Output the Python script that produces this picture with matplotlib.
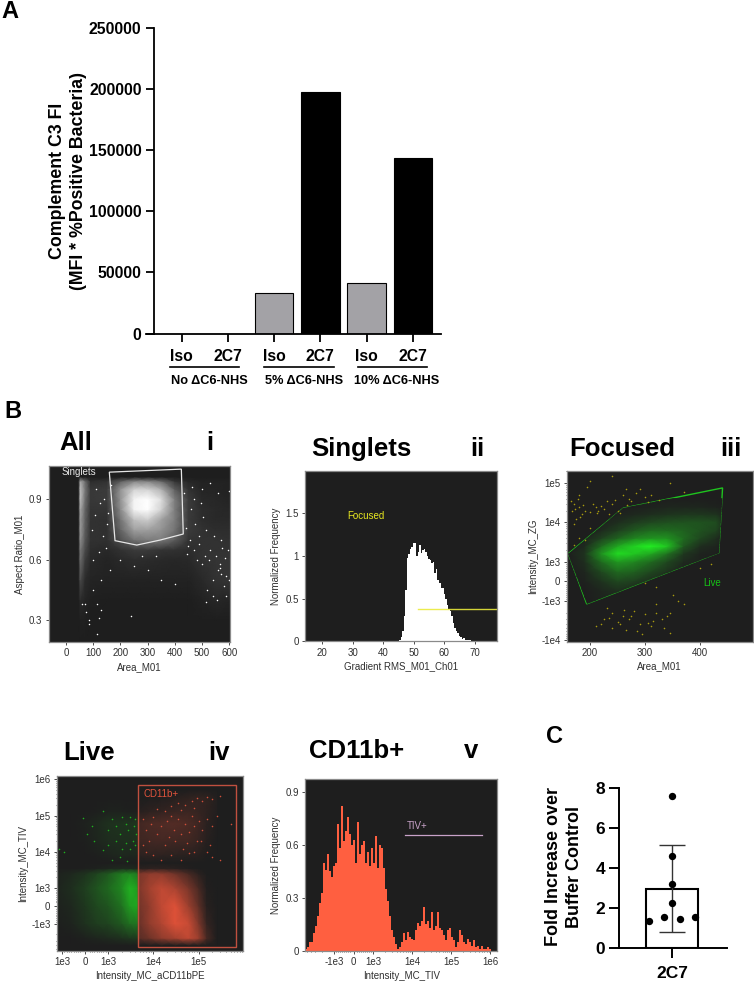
import numpy as np
import matplotlib
matplotlib.use('Agg')
import matplotlib.pyplot as plt
from matplotlib.colors import LinearSegmentedColormap
from matplotlib.lines import Line2D
from matplotlib.patches import Polygon, Rectangle
from matplotlib.ticker import NullFormatter, SymmetricalLogLocator

plt.rcParams['font.family'] = ['Liberation Sans', 'DejaVu Sans']

W = 754
H = 983
DARK = '#1e1e1e'
TXT = '#303030'
SMALL = 7.0

# panel A
a_labels = ['Iso', '2C7', 'Iso', '2C7', 'Iso', '2C7']
a_values = [0, 0, 32800, 197500, 41200, 143400]
a_colors = ['#a3a2a6', 'black', '#a3a2a6', 'black', '#a3a2a6', 'black']
a_yticks = [0, 50000, 100000, 150000, 200000, 250000]
a_groups = ['No ΔC6-NHS', '5% ΔC6-NHS', '10% ΔC6-NHS']

# panel i, density
i_xn = [46, 52, 70, 90, 150, 200, 250, 300, 350, 400, 450, 500, 550, 600]
i_yn = [0.2, 0.3, 0.4, 0.5, 0.6, 0.65, 0.7, 0.75, 0.8, 0.85, 0.9, 0.95, 0.99, 1.01]
i_z = [
    [0, 0, 0, 0, 0, 0, 0, 0, 0, 0, 0, 0, 0, 0],
    [0, .01, .01, 0, 0, 0, 0, 0, 0, 0, 0, 0, 0, 0],
    [0, .06, .03, .01, 0, 0, 0, 0, 0, 0, 0, .02, .04, .03],
    [0, .2, .06, .03, .02, .02, .02, .02, .02, .02, .02, .05, .09, .1],
    [0, .35, .14, .05, .03, .05, .07, .06, .05, .04, .05, .09, .1, .1],
    [0, .4, .2, .07, .05, .09, .13, .13, .1, .09, .07, .09, .09, .09],
    [0, .5, .25, .09, .08, .22, .38, .42, .42, .28, .1, .09, .09, .08],
    [0, .55, .28, .09, .08, .32, .58, .58, .52, .38, .13, .09, .07, .07],
    [0, .55, .3, .09, .08, .38, .72, .78, .58, .42, .13, .07, .05, .05],
    [0, .6, .32, .1, .1, .48, .95, 1, .8, .42, .13, .07, .05, .04],
    [0, .7, .36, .12, .13, .52, .95, 1, .85, .42, .13, .05, .04, .03],
    [0, .7, .4, .12, .13, .52, .8, .8, .65, .28, .09, .03, .03, .02],
    [0, .6, .35, .07, .09, .28, .45, .45, .33, .1, .04, .02, .02, .02],
    [0, 0, 0, 0, 0, 0, 0, 0, 0, 0, 0, 0, 0, 0],
]
i_gate_x = [159, 424, 431, 346, 260, 180]
i_gate_y = [1.035, 1.05, .728, .698, .673, .695]
i_dots_x = [560, 565, 570, 590, 598, 580, 540, 520, 500, 480, 470, 450, 510, 530, 550, 575, 595,
            490, 515, 460, 470, 500, 530, 560, 598, 570, 540, 590, 555, 515, 240, 130, 115, 85,
            75, 70, 60, 120, 115, 85, 350, 300, 250, 200, 400, 160, 130, 100, 330, 280,
            110, 125, 140, 105, 95, 135, 150, 145, 120, 100, 155, 165, 440, 455, 475, 490, 505,
            525, 545, 565, 585, 435, 445, 465, 495]
i_dots_y = [.55, .56, .53, .52, .5, .47, .5, .45, .58, .6, .65, .67, .62, .65, .62, .66, .65,
            .72, .75, .85, .9, .95, .98, .93, .94, .7, .42, .42, .4, .39, .32, .35, .38, .28,
            .34, .38, .38, .31, .23, .3, .5, .55, .57, .6, .48, .55, .5, .45, .62, .62,
            .95, .88, .9, .82, .75, .72, .78, .66, .64, .6, .83, .97, .76, .7, .78, .68, .81,
            .6, .72, .58, .61, .93, .63, .96, .88]

# panel ii
ii_x = [45, 45.5, 46, 46.5, 47, 47.5, 48, 48.5, 49, 49.5, 50, 50.5, 51, 51.5, 52, 52.5, 53, 53.5,
        54, 54.5, 55, 55.5, 56, 56.5, 57, 57.5, 58, 58.5, 59, 59.5, 60, 60.5, 61, 61.5, 62, 62.5,
        63, 63.5, 64, 64.5, 65, 65.5, 66, 66.5, 67, 67.5, 68, 68.5, 69, 69.5]
ii_y = [0, .01, .05, .12, .3, .6, .98, 1.02, 1.08, 1.1, 1.15, 1.15, 1.0, 1.05, 1.13, 1.03, 1.07,
        1.08, 1.05, 1.0, .97, .95, .92, .93, .8, .85, .72, .68, .63, .62, .55, .5, .42, .38, .35,
        .3, .22, .16, .12, .1, .06, .05, .03, .04, .02, .02, .01, .01, .005, 0]

# panel iii
iii_xn = [160, 190, 220, 250, 280, 310, 340, 370, 400, 430, 445]
iii_yn = [-3000, -500, 0, 500, 1000, 1600, 2500, 4000, 6300, 10000, 16000, 25000, 40000]
iii_z = [
    [0, 0, 0, 0, 0, 0, 0, 0, 0, 0, 0],
    [0, 0, .04, .08, .04, 0, 0, 0, 0, 0, 0],
    [0, .02, .1, .2, .16, .08, .02, 0, 0, 0, 0],
    [0, .04, .2, .36, .32, .2, .1, .02, 0, 0, 0],
    [0, .08, .36, .58, .5, .36, .2, .06, .02, 0, 0],
    [0, .1, .55, .9, .8, .65, .4, .12, .03, .01, 0],
    [0, .06, .36, .65, .85, 1, .8, .28, .08, .03, 0],
    [0, .02, .16, .32, .48, .55, .55, .36, .2, .08, 0],
    [0, 0, .06, .16, .28, .36, .36, .32, .25, .18, .02],
    [0, 0, .02, .08, .14, .2, .24, .25, .25, .22, .04],
    [0, 0, 0, .02, .05, .08, .1, .12, .12, .1, .02],
    [0, 0, 0, 0, .01, .02, .04, .04, .04, .02, .01],
    [0, 0, 0, 0, 0, 0, 0, 0, 0, 0, 0],
]
iii_gate_x = [160.5, 260.6, 441, 434, 194]
iii_gate_y = [1606, 23000, 75000, 1700, -1208]
iii_dots_x = [170, 180, 185, 190, 200, 210, 215, 225, 230, 240, 250, 255, 180, 165, 195, 200, 240,
              260, 265, 270, 275, 290, 300, 310, 345, 370, 170, 180, 170, 190, 200, 175,
              230, 240, 260, 280, 300, 320, 340, 330, 250, 270, 290, 310, 220, 210, 285, 295,
              345, 240, 320, 350, 320, 300, 360, 370, 400, 420,
              168, 178, 188, 205, 220, 235, 245, 172, 182, 212, 268, 283, 305, 325, 262, 275,
              235, 255, 315, 335, 305, 265, 345, 225]
iii_dots_y = [30000, 25000, 16000, 20000, 18000, 24000, 19000, 22000, 35000, 30000, 20000, 17000,
              50000, 35000, 80000, 110000, 150000, 50000, 70000, 40000, 35000, 70000, 45000,
              50000, 100000, 60000, 9000, 4000, 2600, 3500, 7000, 12000,
              -1500, -2000, -2500, -1800, -2200, -2000, -2500, -3000, -3500, -3000, -4000, -4500,
              -4000, -4500, -6000, -7000, -6500, -5000, -1200, -700, -300, -100, -1000, -1200,
              700, 900,
              20000, 40000, 28000, 30000, 26000, 16000, 38000, 22000, 14000, 17000, 28000, 55000,
              32000, 36000, -1700, -2400, -2800, -3800, -3300, -5000, -3600, -5500, -2000, -3000]

# panel iv
iv_gx = [-1300, -600, 0, 500, 1000, 2000, 3000, 4640]
iv_ry = [-4000, -2500, -1000, 0, 1000, 2500, 3500, 5000]
iv_green = [
    [0, 0, 0, 0, 0, 0, 0, 0],
    [0, 0, .02, .04, .06, .09, .12, .14],
    [.01, .03, .09, .15, .18, .28, .38, .42],
    [.02, .05, .12, .2, .26, .4, .6, .65],
    [.03, .08, .16, .25, .35, .5, .7, .6],
    [.02, .05, .1, .18, .28, .45, .5, .42],
    [0, 0, .01, .02, .04, .06, .06, .05],
    [0, 0, 0, 0, 0, 0, 0, 0],
]
iv_rx = [4640, 8000, 15000, 30000, 60000, 100000, 150000, 250000]
iv_red = [
    [0, 0, 0, 0, 0, 0, 0, 0],
    [.25, .35, .5, .6, .72, .55, .18, 0],
    [.32, .5, .65, .85, .75, .42, .1, 0],
    [.36, .5, .72, .85, .55, .28, .04, 0],
    [.42, .58, .72, .62, .4, .18, .02, 0],
    [.4, .5, .5, .36, .18, .06, 0, 0],
    [.05, .07, .07, .05, .02, 0, 0, 0],
    [0, 0, 0, 0, 0, 0, 0, 0],
]
iv_upy = [5000, 8000, 20000, 60000, 130000, 300000, 500000]
iv_green_up = [
    [0, 0, 0, 0, 0, 0, 0, 0],
    [0, 0, 0, .01, .03, .05, .04, .05],
    [0, 0, .01, .04, .07, .08, .08, .1],
    [0, 0, .02, .05, .09, .1, .1, .12],
    [0, 0, 0, .01, .02, .02, .01, .01],
    [0, 0, 0, 0, 0, 0, 0, 0],
    [0, 0, 0, 0, 0, 0, 0, 0],
]
iv_red_up = [
    [0, 0, 0, 0, 0, 0, 0, 0],
    [.06, .08, .07, .06, .05, .04, .01, 0],
    [.14, .16, .17, .16, .15, .1, .04, 0],
    [.16, .2, .22, .24, .2, .14, .06, .01],
    [.04, .07, .09, .12, .13, .1, .07, .02],
    [0, .01, .02, .05, .08, .1, .08, .03],
    [0, 0, 0, 0, .01, .01, .01, 0],
]
iv_gdots_x = [-100, 100, 300, 800, 1200, 1500, 2000, 2500, 3000, 4000, 4200, 3500, 1500, 1000, 800,
              2000, 2500, 3000, 4000, 1800, 1200, 2600, -1200, -900, 1000, 400, 1800, 2800, 3800]
iv_gdots_y = [85000, 30000, 50000, 130000, 80000, 50000, 90000, 60000, 90000, 80000, 30000, 20000,
              20000, 15000, 11000, 12000, 18000, 12000, 15000, 7000, 6000, 5500, 12000, 10000,
              40000, 20000, 30000, 40000, 50000]
iv_rdots_x = [6e3, 7e3, 8e3, 9e3, 1e4, 1.2e4, 1.5e4, 1.8e4, 2e4, 2.2e4, 2.5e4, 2.8e4, 3e4, 3.5e4,
              4e4, 4.5e4, 5e4, 5.5e4, 6e4, 7e4, 8e4, 9e4, 1e5, 1.2e5, 1.5e5, 1.8e5, 2e5, 3e5,
              1.2e4, 1.8e4, 2.5e4, 3.5e4, 5e4, 7e4, 9e4, 1.2e5, 1.5e5, 2e5, 3e5, 8e4, 4e4, 1.1e5,
              6e3, 7e3, 1e4, 1.5e4, 2.5e4, 4e4, 6e4, 8e4, 1.5e5, 2e5, 5e5, 2.5e5]
iv_rdots_y = [8e4, 4e4, 2e4, 6e4, 9e4, 3e4, 5e4, 1.5e4, 7e4, 2.5e4, 1e5, 4e4, 2e4, 8e4, 3e4, 1.2e4,
              6e4, 1.8e4, 3.5e4, 1e5, 5e4, 2e4, 7e4, 4e4, 8e4, 1.5e4, 5e4, 6e3, 1.5e5, 1.3e5,
              1.8e5, 2.2e5, 2e5, 2.5e5, 3e5, 2.5e5, 3.2e5, 2.8e5, 3.5e5, 1.6e5, 1.4e5, 2e4,
              1.5e4, 1e4, 8e3, 6e3, 8e3, 6e3, 9e3, 1e4, 1e4, 7e3, 6e4, 1e5]

# panel v, bins are evenly spaced along the drawn axis
v_heights = [.01, .02, .05, .05, .1, .14, .2, .27, .33, .5, .46, .55, .45, .42, .48, .5, .72, .58,
             .82, .62, .68, .76, .66, .6, .63, .5, .73, .55, .6, .62, .5, .56, .48, .58, .5, .65,
             .47, .6, .58, .47, .35, .28, .2, .12, .08, .04, .01, .02, .05, .1, .06, .11, .08, .07,
             .06, .12, .16, .14, .17, .25, .15, .17, .13, .22, .12, .14, .22, .13, .12, .09, .06,
             .12, .13, .08, .06, .02, .05, .12, .09, .05, .04, .07, .05, .03, .06, .02, .03, .01,
             .03, .01, .01, .02, .01, 0, 0, 0]

# panel C
c_mean = 2.93
c_err_low = 0.8
c_err_high = 5.15
c_x = [0, 0, 0, 0, -.444, -.15, .15, .444]
c_y = [7.6, 4.62, 3.22, 2.27, 1.37, 1.57, 1.47, 1.57]


def pxaxes(x0, y0, x1, y1):
    return fig.add_axes([x0 / W, 1 - y1 / H, (x1 - x0) / W, (y1 - y0) / H])


def ftext(x, y, s, **kw):
    fig.text(x / W, 1 - y / H, s, **kw)


def title(x0, y0, s, x1, y1, roman):
    ftext(x0, y0, s, fontsize=18.5, fontweight='bold', va='baseline', ha='left')
    ftext(x1, y1, roman, fontsize=18.5, fontweight='bold', va='baseline', ha='center')


def flow_style(ax):
    ax.set_facecolor(DARK)
    for s in ax.spines.values():
        s.set_color('#8a8a8a')
        s.set_linewidth(0.9)
    ax.tick_params(axis='both', which='major', length=2, width=0.6, labelsize=SMALL,
                   colors=TXT, pad=2.5)
    ax.tick_params(axis='both', which='minor', length=1, width=0.5, colors=TXT)


def ramp(col):
    return LinearSegmentedColormap.from_list('r', [DARK, col])


fig = plt.figure(figsize=(W / 100, H / 100), dpi=100)

ftext(1, 18, 'A', fontsize=17, fontweight='bold', va='baseline')
ftext(4, 418, 'B', fontsize=17, fontweight='bold', va='baseline')
ftext(546, 743, 'C', fontsize=17, fontweight='bold', va='baseline')

# A
ax = pxaxes(154, 28, 441, 333.5)
ax.bar(range(6), a_values, width=0.83, color=a_colors, edgecolor='black', linewidth=0.8)
ax.set_xlim(-0.6, 5.61)
ax.set_ylim(0, 250000)
ax.set_yticks(a_yticks)
ax.set_xticks(range(6))
ax.set_xticklabels(a_labels)
ax.spines['top'].set_visible(False)
ax.spines['right'].set_visible(False)
ax.spines['left'].set_linewidth(1.3)
ax.spines['bottom'].set_linewidth(1.3)
ax.tick_params(length=6, width=1.3, labelsize=11.3, pad=3)
ax.tick_params(axis='x', pad=5)
for t in ax.get_xticklabels() + ax.get_yticklabels():
    t.set_fontweight('bold')
ftext(68, 181, 'Complement C3 FI\n(MFI * %Positive Bacteria)', rotation=90, fontsize=12.8,
      fontweight='bold', ha='center', va='center', linespacing=1.28)
for x0, x1, label, xc in zip([170, 264, 358], [239, 334, 427], a_groups, [209, 304, 397]):
    fig.add_artist(Line2D([x0 / W, x1 / W], [1 - 366.7 / H] * 2, color='black', lw=1.2))
    ftext(xc, 381, label, fontsize=9.2, fontweight='bold', ha='center', va='center')
ax.plot([-0.6, -0.78], [0, 0], color='black', lw=1.3, clip_on=False)

# i
ax = pxaxes(48.7, 465.7, 230, 642)
flow_style(ax)
ax.pcolormesh(i_xn, i_yn, i_z, shading='gouraud', cmap=ramp('white'), vmin=0, vmax=1)
ax.scatter(i_dots_x, i_dots_y, s=1.2, color='white', linewidths=0)
ax.add_patch(Polygon(list(zip(i_gate_x, i_gate_y)), closed=True, fill=False, ec='#e6e6e6', lw=0.9))
ax.text(-16, 1.034, 'Singlets', color='#e8e8e8', fontsize=SMALL, va='center')
ax.set_xlim(-64, 603)
ax.set_ylim(0.192, 1.067)
ax.set_xticks([0, 100, 200, 300, 400, 500, 600])
ax.set_yticks([0.3, 0.6, 0.9])
ax.set_xlabel('Area_M01', fontsize=SMALL, color=TXT, labelpad=2.5)
ax.set_ylabel('Aspect Ratio_M01', fontsize=SMALL, color=TXT, labelpad=3)
title(59, 450, 'All', 210, 450, 'i')

# ii
ax = pxaxes(305, 470.7, 497.3, 641.3)
flow_style(ax)
ax.fill_between(ii_x, ii_y, step='mid', color='white', lw=0)
ax.plot([51.4, 77.3], [0.38, 0.38], color='#eaea3c', lw=1.0, alpha=0.9)
ax.text(28.2, 1.47, 'Focused', color='#e8e820', fontsize=SMALL, va='center')
ax.set_xlim(14.44, 77.3)
ax.set_ylim(0, 2)
ax.set_xticks([20, 30, 40, 50, 60, 70])
ax.set_yticks([0, 0.5, 1, 1.5])
ax.set_yticklabels(['0', '0.5', '1', '1.5'])
ax.set_xlabel('Gradient RMS_M01_Ch01', fontsize=SMALL, color=TXT, labelpad=2.5)
ax.set_ylabel('Normalized Frequency', fontsize=SMALL, color=TXT, labelpad=3)
title(311.7, 456, 'Singlets', 477, 456, 'ii')

# iii
ax = pxaxes(566.7, 470.7, 752.7, 641.7)
flow_style(ax)
ax.set_yscale('symlog', linthresh=1e3, linscale=0.444)
ax.set_xlim(157.6, 495.8)
ax.set_ylim(-1.1e4, 2.05e5)
gate = Polygon(list(zip(iii_gate_x, iii_gate_y)), closed=True, fill=False, ec='#1fc41f', lw=1.0,
               transform=ax.transData)
ax.add_patch(gate)
mesh = ax.pcolormesh(iii_xn, iii_yn, iii_z, shading='gouraud', cmap=ramp('#22f022'), vmin=0, vmax=1)
mesh.set_clip_path(gate)
ax.scatter(iii_dots_x, iii_dots_y, s=1.3, color='#a89a10', linewidths=0)
ax.text(405, -100, 'Live', color='#17c017', fontsize=SMALL, va='center')
ax.set_xticks([200, 300, 400])
ax.set_yticks([-1e4, -1e3, 0, 1e3, 1e4, 1e5])
ax.set_yticklabels(['-1e4', '-1e3', '0', '1e3', '1e4', '1e5'])
ax.yaxis.set_minor_locator(SymmetricalLogLocator(linthresh=1e3, base=10, subs=range(2, 10)))
ax.yaxis.set_minor_formatter(NullFormatter())
ax.set_xlabel('Area_M01', fontsize=SMALL, color=TXT, labelpad=2.5)
ax.set_ylabel('Intensity_MC_ZG', fontsize=SMALL, color=TXT, labelpad=2)
title(569.3, 455.7, 'Focused', 730.7, 455.7, 'iii')

# iv
ax = pxaxes(56.7, 775.7, 242.7, 951)
flow_style(ax)
ax.set_xscale('symlog', linthresh=1e3, linscale=0.455)
ax.set_yscale('symlog', linthresh=1e3, linscale=0.44)
ax.set_xlim(-1315, 9.25e5)
ax.set_ylim(-5.7e3, 1.25e6)
ax.pcolormesh(iv_gx, iv_ry, iv_green, shading='gouraud', cmap=ramp('#22f022'), vmin=0, vmax=1)
ax.pcolormesh(iv_rx, iv_ry, iv_red, shading='gouraud', cmap=ramp('#ff5a3c'), vmin=0, vmax=1)
ax.pcolormesh(iv_gx, iv_upy, iv_green_up, shading='gouraud', cmap=ramp('#22f022'), vmin=0, vmax=1)
ax.pcolormesh(iv_rx, iv_upy, iv_red_up, shading='gouraud', cmap=ramp('#ff5a3c'), vmin=0, vmax=1)
ax.scatter(iv_gdots_x, iv_gdots_y, s=1.3, color='#1fb01f', linewidths=0)
ax.scatter(iv_rdots_x, iv_rdots_y, s=1.3, color='#d0503a', linewidths=0)
ax.add_patch(Rectangle((4640, -4.5e3), 6.5e5 - 4640, 7.1e5 + 4.5e3, fill=False, ec='#c0503f', lw=1.0))
ax.text(6200, 4e5, 'CD11b+', color='#e0533c', fontsize=SMALL, va='center')
ax.set_xticks([-1e3, 0, 1e3, 1e4, 1e5])
ax.set_xticklabels(['1e3', '0', '1e3', '1e4', '1e5'])
ax.set_yticks([-1e3, 0, 1e3, 1e4, 1e5, 1e6])
ax.set_yticklabels(['-1e3', '0', '1e3', '1e4', '1e5', '1e6'])
for axis in (ax.xaxis, ax.yaxis):
    axis.set_minor_locator(SymmetricalLogLocator(linthresh=1e3, base=10, subs=range(2, 10)))
    axis.set_minor_formatter(NullFormatter())
ax.set_xlabel('Intensity_MC_aCD11bPE', fontsize=SMALL, color=TXT, labelpad=2.5)
ax.set_ylabel('Intensity_MC_TIV', fontsize=SMALL, color=TXT, labelpad=2)
title(63.3, 760, 'Live', 219, 760, 'iv')

# v
ax = pxaxes(305, 779, 497.3, 951)
flow_style(ax)
ax.set_xscale('symlog', linthresh=1e3, linscale=0.447)
ax.set_xlim(-5.55e3, 1.5e6)
ax.set_ylim(0, 0.972)
tr = ax.xaxis.get_transform()
lim = tr.transform(np.array(ax.get_xlim()))
v_edges = tr.inverted().transform(np.linspace(lim[0], lim[1], len(v_heights) + 1))
ax.stairs(v_heights, v_edges, fill=True, color='#ff5f40', lw=0)
ax.plot([6440, 6e5], [0.653, 0.653], color='#c8a2c8', lw=0.9)
ax.text(7500, 0.706, 'TIV+', color='#c8a2c8', fontsize=SMALL, va='center')
ax.set_xticks([-1e3, 0, 1e3, 1e4, 1e5, 1e6])
ax.set_xticklabels(['-1e3', '0', '1e3', '1e4', '1e5', '1e6'])
ax.set_yticks([0, 0.3, 0.6, 0.9])
ax.set_yticklabels(['0', '0.3', '0.6', '0.9'])
ax.xaxis.set_minor_locator(SymmetricalLogLocator(linthresh=1e3, base=10, subs=range(2, 10)))
ax.xaxis.set_minor_formatter(NullFormatter())
ax.set_xlabel('Intensity_MC_TIV', fontsize=SMALL, color=TXT, labelpad=2.5)
ax.set_ylabel('Normalized Frequency', fontsize=SMALL, color=TXT, labelpad=3)
title(309, 758.3, 'CD11b+', 470.7, 758.3, 'v')

# C
ax = pxaxes(619.3, 788, 726.7, 948)
ax.bar([0], [c_mean], width=1, color='white', edgecolor='black', linewidth=1.5)
ax.errorbar([0], [c_mean], yerr=[[c_mean - c_err_low], [c_err_high - c_mean]], color='#333333',
            lw=1.0, capsize=9.5, capthick=1.0)
ax.scatter(c_x, c_y, s=28, color='black', zorder=5, linewidths=0, clip_on=False)
ax.set_xlim(-1.033, 1.072)
ax.set_ylim(0, 8)
ax.set_yticks([0, 2, 4, 6, 8])
ax.set_xticks([0])
ax.set_xticklabels(['2C7'])
ax.spines['top'].set_visible(False)
ax.spines['right'].set_visible(False)
ax.spines['left'].set_linewidth(1.4)
ax.spines['bottom'].set_linewidth(1.4)
ax.tick_params(length=7, width=1.4, labelsize=12.5, pad=3)
ax.tick_params(axis='x', pad=6)
for t in ax.get_xticklabels() + ax.get_yticklabels():
    t.set_fontweight('bold')
ftext(564, 866.7, 'Fold Increase over\nBuffer Control', rotation=90, fontsize=13,
      fontweight='bold', ha='center', va='center', linespacing=1.28)

fig.savefig('out.png', dpi=100)
